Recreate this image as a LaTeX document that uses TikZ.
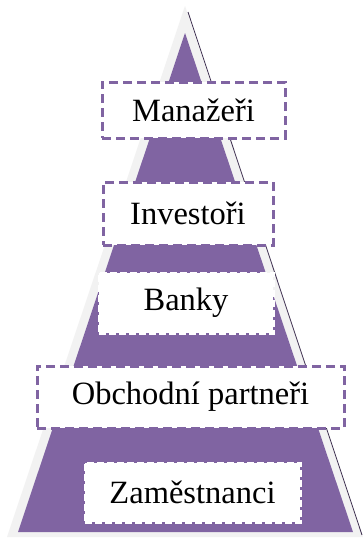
\documentclass[tikz,border=0pt]{standalone}
\usepackage{fontspec}
\setmainfont{Liberation Serif}
\definecolor{pyr}{HTML}{8064A2}
\definecolor{pale}{HTML}{F2F2F2}
\definecolor{edge}{HTML}{3F3151}
\begin{document}
\begin{tikzpicture}[x=1pt,y=-1pt,
  lvl/.style={draw=pyr,line width=3pt,dash pattern=on 9pt off 5pt,fill=white,
    inner sep=0pt,font=\fontsize{32.5}{38}\selectfont},
  lvlw/.style={draw=white,line width=3pt,dash pattern=on 7pt off 3pt,fill=white,
    inner sep=0pt,font=\fontsize{32.5}{38}\selectfont}]
\useasboundingbox (0,0) rectangle (363,539);
\fill[white] (0,0) rectangle (363,539);
% pale backing triangle
\fill[pale] (185,6) -- (363,537) -- (7,537) -- cycle;
% dark edge line
\draw[edge,line width=0.8pt] (188,12) -- (362,535);
% purple pyramid
\fill[pyr] (185,33) -- (353,532) -- (18,532) -- cycle;
% levels
\node[lvl,minimum width=183pt,minimum height=56pt] (m) at (193.5,110) {Manažeři};
\node[lvl,minimum width=170pt,minimum height=63pt] (i) at (188,213.5) {Investoři};
\node[lvlw,minimum width=174pt,minimum height=60pt] (b) at (186,303) {Banky};
\node[lvl,minimum width=307pt,minimum height=62pt] (o) at (190.5,397) {Obchodní partneři};
\node[lvlw,minimum width=215pt,minimum height=59pt] (z) at (192.5,492.5) {Zaměstnanci};
\end{tikzpicture}
\end{document}
